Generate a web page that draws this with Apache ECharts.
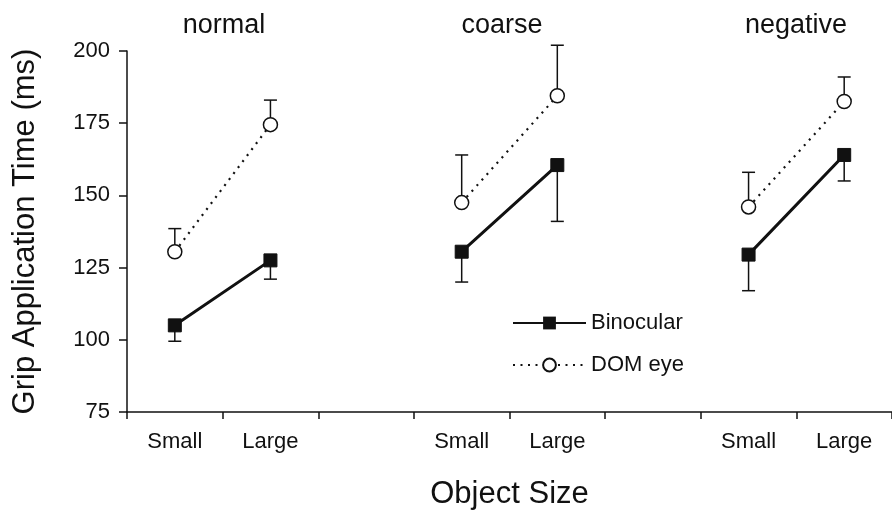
<!DOCTYPE html>
<html><head><meta charset="utf-8">
<script src="https://cdn.jsdelivr.net/npm/echarts@6/dist/echarts.min.js"></script>
<style>html,body{margin:0;padding:0;background:#fff}#c{width:892px;height:518px}</style>
</head><body><div id="c"></div>
<script>
const categories = ['Small','Large','','Small','Large','','Small','Large'];
const groupTitles = ['normal','coarse','negative'];
const binocular = [105, 127.5, null, 130.5, 160.5, null, 129.5, 164];
const binocularErrLow = [99.5, 121, null, 120, 141, null, 117, 155];
const domEye = [130.5, 174.5, null, 147.5, 184.5, null, 146, 182.5];
const domEyeErrHigh = [138.5, 183, null, 164, 202, null, 158, 191];
const yTicks = {min: 75, max: 200, interval: 25};

const FONT = 'Liberation Sans, Arial, sans-serif';
function errData(vals, ends){
  const out = [];
  vals.forEach((v,i)=>{ if(v!=null) out.push([i, v, ends[i]]); });
  return out;
}
function errRender(params, api){
  const x = api.value(0);
  const p0 = api.coord([x, api.value(1)]);
  const p1 = api.coord([x, api.value(2)]);
  const cap = 6.5;
  return {type:'group', children:[
    {type:'line', shape:{x1:p0[0],y1:p0[1],x2:p1[0],y2:p1[1]}, style:{stroke:'#111',lineWidth:1.5}},
    {type:'line', shape:{x1:p1[0]-cap,y1:p1[1],x2:p1[0]+cap,y2:p1[1]}, style:{stroke:'#111',lineWidth:1.5}}
  ]};
}
const chart = echarts.init(document.getElementById('c'));
chart.setOption({
  animation:false,
  backgroundColor:'#fff',
  textStyle:{fontFamily:FONT},
  title: groupTitles.map((t,i)=>({text:t, left:[219,497,791][i], top:7, textAlign:'center',
    textStyle:{fontFamily:FONT,fontSize:27,fontWeight:'normal',color:'#111'}})),
  legend:{orient:'vertical', left:507, top:307, itemWidth:73, itemHeight:16, itemGap:20,
    data:['Binocular','DOM eye'],
    textStyle:{fontFamily:FONT,fontSize:22,color:'#111'}},
  grid:{left:127, top:51, bottom:106, right:-3, containLabel:false},
  xAxis:{type:'category', data:categories, boundaryGap:true,
    name:'Object Size', nameLocation:'middle', nameGap:67,
    nameTextStyle:{fontFamily:FONT,fontSize:31,color:'#111'},
    axisLine:{lineStyle:{color:'#111',width:1.5}},
    axisTick:{show:true,length:7,interval:0,lineStyle:{color:'#111',width:1.5}},
    axisLabel:{interval:0,margin:19,fontFamily:FONT,fontSize:22,color:'#111'}},
  yAxis:{type:'value', min:yTicks.min, max:yTicks.max, interval:yTicks.interval,
    name:'Grip Application Time (ms)', nameLocation:'middle', nameRotate:90, nameGap:86,
    nameTextStyle:{fontFamily:FONT,fontSize:31,color:'#111'},
    splitLine:{show:false},
    axisLine:{show:true,lineStyle:{color:'#111',width:1.5}},
    axisTick:{show:true,length:8,lineStyle:{color:'#111',width:1.5}},
    axisLabel:{margin:17,fontFamily:FONT,fontSize:22,color:'#111'}},
  series:[
    {type:'custom', name:'errB', renderItem:errRender, data:errData(binocular,binocularErrLow), z:1, silent:true},
    {type:'custom', name:'errD', renderItem:errRender, data:errData(domEye,domEyeErrHigh), z:1, silent:true},
    {type:'line', name:'Binocular', data:binocular, connectNulls:false, symbol:'rect', symbolSize:13,
      itemStyle:{color:'#111',borderColor:'#111'}, lineStyle:{color:'#111',width:3}, z:3},
    {type:'line', name:'DOM eye', data:domEye, connectNulls:false, symbol:'circle', symbolSize:14,
      itemStyle:{color:'#fff',borderColor:'#111',borderWidth:1.5}, lineStyle:{color:'#111',width:2.2,type:[2,5.5]}, z:3}
  ]
});
</script></body></html>
